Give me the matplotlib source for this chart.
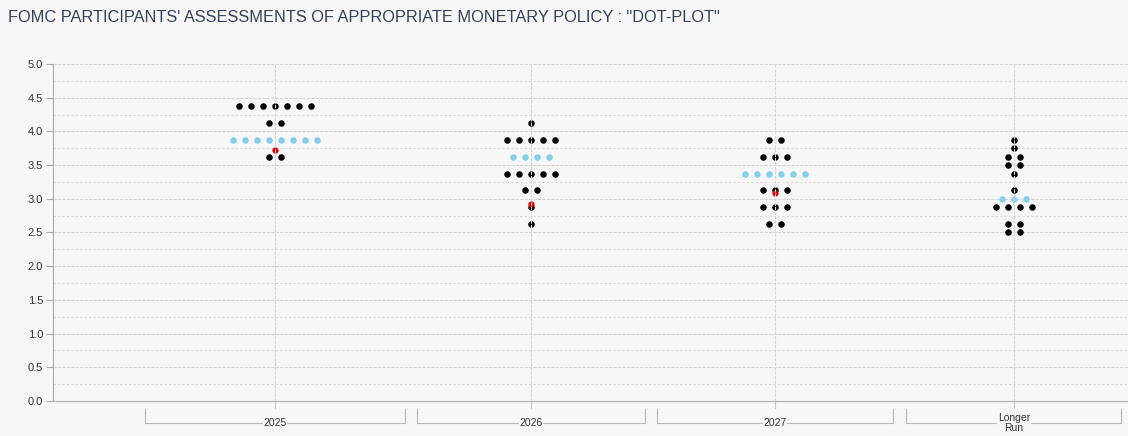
import numpy as np
import matplotlib.pyplot as plt

plt.rcParams['font.family'] = ['Liberation Sans', 'DejaVu Sans']

# data
categories = ['2025', '2026', '2027', 'Longer\nRun']
levels = [
    [4.375, 4.125, 3.875, 3.625],
    [4.125, 3.875, 3.625, 3.375, 3.125, 2.875, 2.625],
    [3.875, 3.625, 3.375, 3.125, 2.875, 2.625],
    [3.875, 3.75, 3.625, 3.5, 3.375, 3.125, 3.0, 2.875, 2.625, 2.5],
]
counts = [
    [7, 2, 8, 2],
    [1, 5, 4, 5, 2, 1, 1],
    [2, 3, 6, 3, 3, 2],
    [1, 1, 2, 2, 1, 1, 3, 4, 2, 2],
]
medians = [3.875, 3.625, 3.375, 3.0]
red_values = [3.72, 2.92, 3.09]

# layout (pixel-like x coordinates)
centers = [275, 531, 775, 1014]
brackets = [(145, 405), (417, 645), (657, 893), (906, 1121)]
step = 12
bg = '#f7f7f7'

fig = plt.figure(figsize=(11.28, 4.36), dpi=100, facecolor=bg)
ax = fig.add_axes([53 / 1128, 35 / 436, 1 - 53 / 1128, 337 / 436])
ax.set_facecolor(bg)
ax.set_xlim(53, 1128)
ax.set_ylim(0, 5)

for c, lv, cn, med in zip(centers, levels, counts, medians):
    for y, n in zip(lv, cn):
        xs = c + (np.arange(n) - (n - 1) / 2) * step
        col = '#87ceeb' if y == med else 'black'
        ax.scatter(xs, [y] * n, s=22, color=col, zorder=3, linewidths=0)

for c, r in zip(centers, red_values):
    ax.scatter([c], [r], s=20, color='#e00000', zorder=4, linewidths=0)

# grid
ax.set_yticks(np.arange(0, 5.01, 0.5))
ax.set_yticks(np.arange(0.25, 5, 0.5), minor=True)
ax.yaxis.grid(True, which='major', color='#d4d4d4', linestyle=(0, (3, 1)), linewidth=0.8)
ax.yaxis.grid(True, which='minor', color='#dadada', linestyle=(0, (2, 2)), linewidth=0.8)
ax.tick_params(axis='y', which='minor', length=0)
ax.tick_params(axis='y', which='major', length=5, color='#aaaaaa', labelsize=8,
               labelcolor='#333333', pad=2)
ax.set_yticklabels([f'{v:.1f}' for v in np.arange(0, 5.01, 0.5)])
for c in centers:
    ax.axvline(c, color='#d6d6d6', linestyle=(0, (3, 1)), linewidth=0.8, zorder=5)
    ax.plot([c, c], [0, -0.1], color='#c8c8c8', linewidth=0.8, clip_on=False)

ax.set_xticks([])
for s in ['top', 'right']:
    ax.spines[s].set_visible(False)
ax.spines['left'].set_color('#aaaaaa')
ax.spines['bottom'].set_color('#b0b0b0')

# category brackets under the axis
for (x0, x1), c, lab in zip(brackets, centers, categories):
    ax.plot([x0, x0, x1, x1], [-0.12, -0.33, -0.33, -0.12], color='#b8b8b8',
            linewidth=0.8, clip_on=False)
    ax.text(c, -0.33, lab, ha='center', va='center', fontsize=7.5, color='#333333',
            linespacing=1.0,
            bbox=dict(facecolor=bg, edgecolor='none', pad=0.5))

fig.text(8 / 1128, 1 - 18 / 436, 'FOMC PARTICIPANTS\' ASSESSMENTS OF APPROPRIATE MONETARY POLICY : "DOT-PLOT"',
         fontsize=11.8, color='#37425a', va='center', ha='left')

fig.savefig('out.png', dpi=100, facecolor=bg)
